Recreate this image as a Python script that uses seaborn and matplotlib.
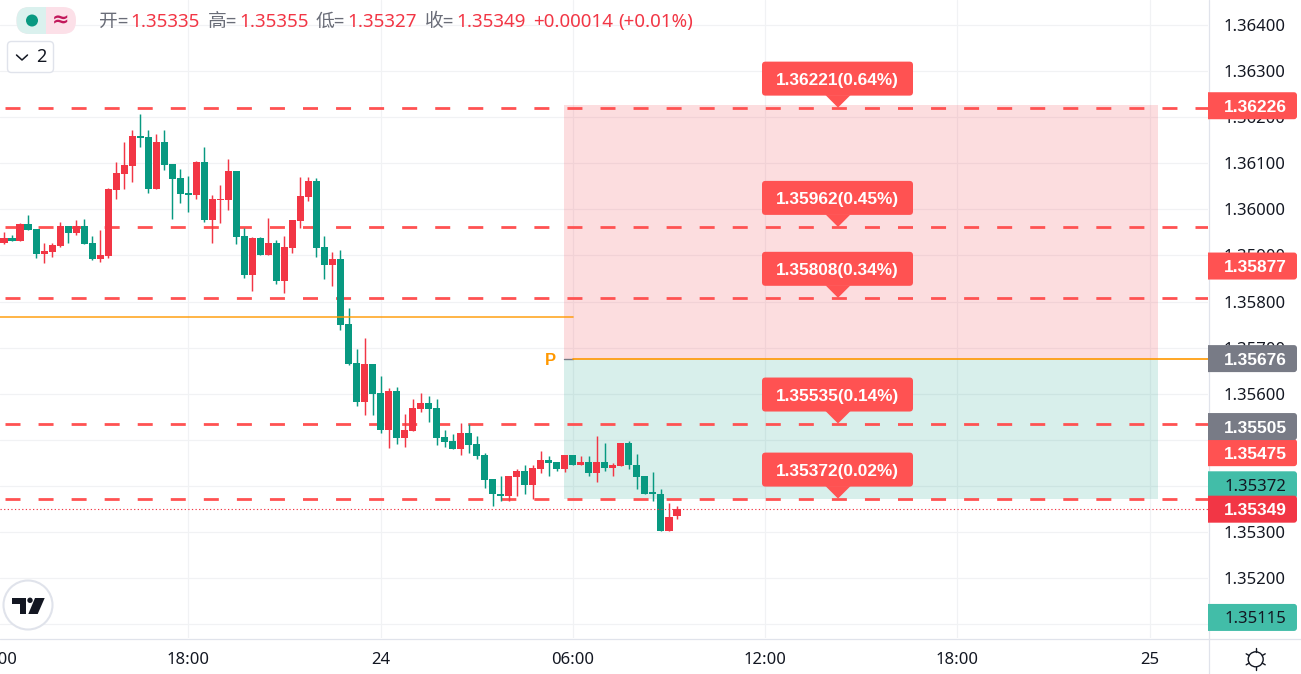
import numpy as np
import pandas as pd
import matplotlib
matplotlib.use("Agg")
import matplotlib.pyplot as plt
import seaborn as sns
from matplotlib.patches import FancyBboxPatch, Polygon, Circle, Rectangle
from matplotlib.lines import Line2D
from matplotlib.transforms import Affine2D

W, H = 1301, 674

opens = [135927,135938,135931,135968,135957,135903,135907,135920,135964,135949,135964,135927,135892,135899,136042,136077,136094,136159,136157,136044,136146,136099,136068,136035,136031,136103,135977,136020,136020,136083,135942,135857,135938,135901,135927,135844,135916,135975,136027,136062,135918,135879,135892,135751,135666,135581,135664,135601,135520,135605,135503,135518,135566,135579,135568,135505,135496,135479,135514,135490,135466,135414,135383,135377,135418,135433,135401,135436,135455,135451,135436,135466,135446,135451,135427,135451,135438,135442,135492,135446,135420,135386,135383,135301,135335]
highs = [135951,135944,135970,135988,135957,135927,135927,135972,135964,135977,135979,135942,135955,136046,136103,136146,136172,136207,136172,136164,136172,136099,136088,136072,136105,136135,136031,136053,136109,136083,135959,135940,135940,135981,135933,135942,135977,136070,136070,136068,135942,135907,135912,135785,135696,135720,135664,135638,135612,135614,135555,135588,135601,135594,135588,135520,135512,135536,135533,135509,135472,135414,135420,135422,135436,135444,135444,135475,135464,135451,135466,135466,135464,135464,135507,135492,135449,135492,135496,135468,135420,135429,135392,135362,135355]
lows = [135925,135931,135931,135955,135894,135883,135896,135918,135927,135944,135925,135890,135885,135894,136022,136044,136059,136135,136035,136044,136085,135979,136014,135994,136022,135972,135927,135970,135999,135925,135851,135822,135901,135901,135838,135818,135905,135959,136018,135896,135849,135833,135738,135662,135572,135553,135553,135514,135481,135490,135483,135518,135559,135538,135488,135483,135479,135466,135470,135457,135394,135357,135366,135366,135377,135381,135372,135427,135420,135433,135429,135446,135446,135422,135409,135431,135420,135442,135436,135392,135383,135366,135301,135301,135327]
closes = [135938,135931,135968,135955,135903,135909,135922,135964,135949,135964,135925,135892,135901,136044,136079,136096,136159,136155,136044,136146,136096,136066,136033,136031,136103,135977,136022,136022,136083,135940,135857,135938,135901,135927,135844,135918,135977,136029,136062,135916,135879,135892,135749,135664,135581,135664,135599,135520,135605,135503,135520,135568,135579,135566,135503,135494,135479,135514,135488,135464,135412,135381,135377,135420,135433,135401,135438,135455,135449,135436,135466,135446,135451,135427,135451,135438,135444,135492,135444,135418,135383,135381,135301,135333,135349]

level_prices = [1.36221, 1.35962, 1.35808, 1.35535, 1.35372]
level_labels = ["1.36221(0.64%)", "1.35962(0.45%)", "1.35808(0.34%)", "1.35535(0.14%)", "1.35372(0.02%)"]

y_ticks = [1.351, 1.352, 1.353, 1.354, 1.355, 1.356, 1.357, 1.358, 1.359, 1.360, 1.361, 1.362, 1.363, 1.364]
x_tick_bars = [24, 48, 72, 96, 120, 144]
x_tick_labels = ["18:00", "24", "06:00", "12:00", "18:00", "25"]
first_tick_bar = 0
first_tick_label = "12:00"

entry_price = 1.35676
stop_price = 1.36226
target_price = 1.35372
prev_price = 1.35766
last_price = 1.35349

tag_prices = [1.36226, 1.35877, 1.35676, 1.35475, 1.35505, 1.35372, 1.35349, 1.35115]
tag_colors = ["#FF5252", "#FF5252", "#787B86", "#FF5252", "#787B86", "#42BDA8", "#F23645", "#42BDA8"]
tag_text = ["white", "white", "white", "white", "white", "#131722", "white", "#131722"]
tag_shift = [0.4, 0, 0, 1.5, -10.8, -13.8, 0, 0.5]

header = [("开=", 99, "#6A6D78"), ("1.35335", 130, "#F23645"),
          ("高=", 208, "#6A6D78"), ("1.35355", 239.5, "#F23645"),
          ("低=", 316, "#6A6D78"), ("1.35327", 347.5, "#F23645"),
          ("收=", 425, "#6A6D78"), ("1.35349", 456.5, "#F23645"),
          ("+0.00014", 533, "#F23645"), ("(+0.01%)", 618, "#F23645")]

sns.set_theme(style="whitegrid", rc={"lines.scale_dashes": False, "axes.axisbelow": True})
plt.rcParams["font.family"] = ["Noto Sans", "Noto Sans CJK SC", "DejaVu Sans"]

RED, GREEN, DASH, GRID, EDGE, INK = "#F23645", "#089981", "#FF5252", "#F1F2F4", "#E0E3EB", "#131722"

df = pd.DataFrame({"bar": np.arange(1, len(opens) + 1),
                   "open": np.array(opens) / 1e5, "high": np.array(highs) / 1e5,
                   "low": np.array(lows) / 1e5, "close": np.array(closes) / 1e5})
df["up"] = df["close"] > df["open"]
df["base"] = df[["open", "close"]].min(axis=1)
df["size"] = (df["close"] - df["open"]).abs()

fig = plt.figure(figsize=(W / 100, H / 100), dpi=100, facecolor="white")
ax = fig.add_axes([0, 36 / H, 1208 / W, 638 / H])

for flag, col in ((True, RED), (False, GREEN)):
    part = df[df["up"] == flag].sort_values("bar")
    sns.barplot(data=part, x="bar", y="size", native_scale=True, errorbar=None, ax=ax,
                bottom=part["base"].values, color=col, saturation=1, width=0.9,
                linewidth=0, zorder=4)
    ax.vlines(part["bar"], part["low"], part["high"], color=col, lw=1.05, zorder=3.9)

ax.set_xlabel("")
ax.set_ylabel("")
ax.yaxis.tick_right()
ax.set_yticks(y_ticks)
ax.set_yticklabels([f"{v:.5f}" for v in y_ticks], fontsize=12, color=INK)
ax.set_xticks(x_tick_bars)
ax.set_xticklabels(x_tick_labels, fontsize=12, color=INK)
ax.set_xlim(24 - 188.3 / 8.01, 24 + (1208 - 188.3) / 8.01)
ax.set_ylim(1.3620 - (638 - 117.3) / 46050, 1.3620 + 117.3 / 46050)
ax.tick_params(axis="y", length=0, pad=11.5)
ax.tick_params(axis="x", length=0, pad=10)
ax.grid(True, color=GRID, lw=0.85)
sns.despine(ax=ax, left=True, top=True, right=True, bottom=True)

# clipped first time label, cut by the figure edge as in the source
ax.annotate(first_tick_label, xy=(first_tick_bar, 0), xycoords=ax.get_xaxis_transform(),
            xytext=(0, -10), textcoords="offset points", ha="center", va="top",
            fontsize=12, color=INK, annotation_clip=False)

# position / risk boxes
box_left, box_right = 70.9, 145.02
ax.add_patch(Rectangle((box_left, entry_price), box_right - box_left, stop_price - entry_price,
                       facecolor=RED, alpha=0.17, lw=0, zorder=1))
ax.add_patch(Rectangle((box_left, target_price), box_right - box_left, entry_price - target_price,
                       facecolor=GREEN, alpha=0.155, lw=0, zorder=1))

# levels
for p in level_prices:
    ax.axhline(p, color=DASH, lw=2.0, zorder=2,
               linestyle=(20.2, (10.8, 13.0)), dash_capstyle="butt")

ax.plot([ax.get_xlim()[0], 72], [prev_price] * 2, color="#FF9800", lw=1.2, alpha=0.85, zorder=5)
ax.plot([box_left, 72], [entry_price] * 2, color="#787B86", lw=1.0, zorder=5)
ax.plot([72, ax.get_xlim()[1]], [entry_price] * 2, color="#FF9800", lw=1.2, zorder=5)
ax.axhline(last_price, color=RED, lw=0.8, linestyle=(0, (0.9, 1.7)), zorder=5)

T = Affine2D().scale(1, -1).translate(0, H)
def yp(price):
    return H - ax.transData.transform((0, price))[1]

# P label
fig.text(550, yp(entry_price), "P", transform=T, color="#FF9800", fontsize=12, ha="center",
         va="center_baseline", zorder=6, family="Liberation Sans", fontweight="bold")

# level call-outs
for p, s in zip(level_prices, level_labels):
    y = yp(p)
    fig.add_artist(FancyBboxPatch((762, y - 46), 151, 34, boxstyle="round,pad=0,rounding_size=3.5",
                                  transform=T, facecolor=DASH, edgecolor="none", zorder=6))
    fig.add_artist(Polygon([(825.5, y - 12.5), (850.5, y - 12.5), (838, y)], transform=T,
                           facecolor=DASH, edgecolor="none", zorder=6))
    fig.text(837.5, y - 28.5, s, transform=T, color="white", fontsize=12.4, fontweight="bold",
             family="Liberation Sans", ha="center", va="center_baseline", zorder=7)

# price scale tags
for i, (p, c, tc, dy) in enumerate(zip(tag_prices, tag_colors, tag_text, tag_shift)):
    y = yp(p) + dy
    tag = FancyBboxPatch((1200, y - 13.5), 97, 27, boxstyle="round,pad=0,rounding_size=3",
                         transform=T, facecolor=c, edgecolor="none", zorder=8 + i * 0.1)
    fig.add_artist(tag)
    tag.set_clip_path(Rectangle((1208, 0), 93, H, transform=T))
    bold = tc == "white"
    fig.text(1255.5, y, f"{p:.5f}", transform=T, color=tc, fontsize=12.5 if bold else 12,
             fontweight="bold" if bold else "normal",
             family="Liberation Sans" if bold else "Noto Sans",
             ha="center", va="center_baseline", zorder=8.05 + i * 0.1)

# frame lines
fig.add_artist(Line2D([1208.5, 1208.5], [0, H], transform=T, color=EDGE, lw=0.9, zorder=7.5))
fig.add_artist(Line2D([0, W], [638.5, 638.5], transform=T, color=EDGE, lw=0.9, zorder=7.5))

# sun icon
cx, cy = 1255.7, 659.3
fig.add_artist(Circle((cx, cy), 7.5, transform=T, facecolor="white", edgecolor=INK, lw=1.0, zorder=9))
for a in np.deg2rad(np.arange(30, 390, 60)):
    fig.add_artist(Line2D([cx + 7.5 * np.cos(a), cx + 11 * np.cos(a)],
                          [cy + 7.5 * np.sin(a), cy + 11 * np.sin(a)],
                          transform=T, color=INK, lw=1.0, zorder=9))

# header
fig.add_artist(FancyBboxPatch((16.5, 7), 59.5, 27, boxstyle="round,pad=0,rounding_size=13",
                              transform=T, facecolor="#FCE0E8", edgecolor="none", zorder=6))
left_pill = FancyBboxPatch((16.5, 7), 59.5, 27, boxstyle="round,pad=0,rounding_size=13",
                           transform=T, facecolor="#DAF1EE", edgecolor="none", zorder=6.1)
fig.add_artist(left_pill)
left_pill.set_clip_path(Rectangle((16, 7), 30, 27, transform=T))
fig.add_artist(Circle((32, 20.5), 6, transform=T, facecolor=GREEN, edgecolor="none", zorder=7))
fig.text(60.5, 20, "≈", transform=T, color="#C2185B", fontsize=15, fontweight="bold",
         ha="center", va="center", family="DejaVu Sans", zorder=7)
for s, x, c in header:
    fig.text(x, 22, s, transform=T, color=c, fontsize=13.5, ha="left", va="center", zorder=7,
             family=["Noto Sans", "Noto Sans CJK SC"])

fig.add_artist(FancyBboxPatch((7.5, 41.5), 46, 31, boxstyle="round,pad=0,rounding_size=4",
                              transform=T, facecolor="white", edgecolor=EDGE, lw=1.0, zorder=6))
fig.add_artist(Line2D([16.5, 22, 27.5], [55, 60, 55], transform=T, color=INK, lw=1.1, zorder=7))
fig.text(41, 57.5, "2", transform=T, color=INK, fontsize=13, ha="center", va="center", zorder=7)

# logo
fig.add_artist(Circle((28, 605), 24.5, transform=T, facecolor="white", edgecolor=EDGE, lw=1.5, zorder=6))
logo = [[(12.3, 598), (26, 598), (26, 614), (19.5, 614), (19.5, 603.5), (12.3, 603.5)],
        [(35, 598), (44.7, 598), (37.7, 614), (28.3, 614)]]
for pts in logo:
    fig.add_artist(Polygon(pts, transform=T, facecolor=INK, edgecolor="none", zorder=7))
fig.add_artist(Circle((30, 600.3), 2.7, transform=T, facecolor=INK, edgecolor="none", zorder=7))

fig.savefig("out.png", dpi=100)
